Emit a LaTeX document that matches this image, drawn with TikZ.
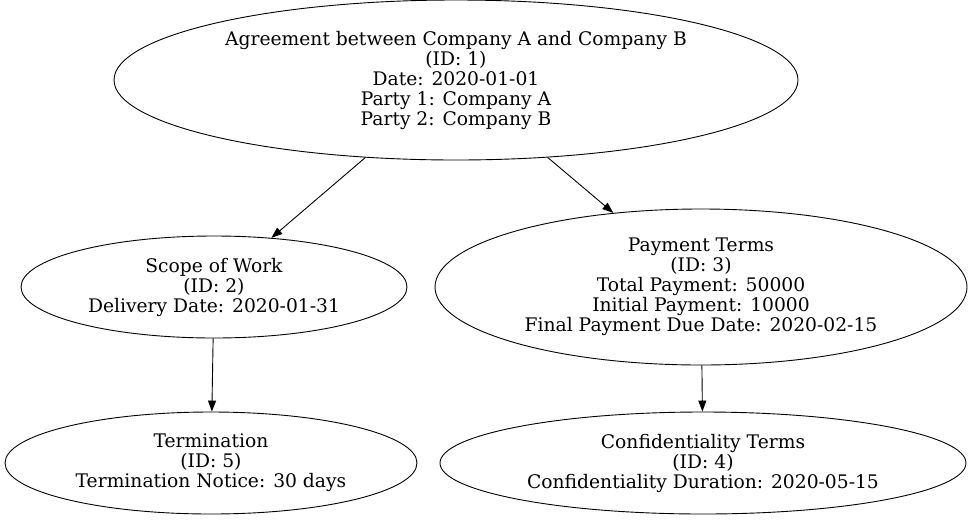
\documentclass[tikz,border=0pt]{standalone}
\usepackage{fontspec}
\setmainfont{DejaVu Serif}
\usetikzlibrary{shapes.geometric}
\usetikzlibrary{arrows.meta}

\begin{document}
\begin{tikzpicture}[
  x=1pt, y=-1pt,
  font=\fontsize{18.7}{20}\selectfont,
  % --- styles ---
  clause/.style={draw, ellipse, align=center, inner sep=0pt, line width=0.9pt},
  arrow/.style={-{Triangle[length=11pt, width=8pt]}, line width=0.9pt}
]
\useasboundingbox (0,0) rectangle (971,520);

% ======================================================
% Clauses
% ======================================================
\node[clause, minimum width=684pt, minimum height=160pt] (agree) at (456,80)
  {Agreement between Company A and Company B\\(ID: 1)\\Date: 2020-01-01\\Party 1: Company A\\Party 2: Company B};
\node[clause, minimum width=386pt, minimum height=102pt] (scope) at (214,287)
  {Scope of Work\\(ID: 2)\\Delivery Date: 2020-01-31};
\node[clause, minimum width=532pt, minimum height=156pt] (pay) at (701,287)
  {Payment Terms\\(ID: 3)\\Total Payment: 50000\\Initial Payment: 10000\\Final Payment Due Date: 2020-02-15};
\node[clause, minimum width=412pt, minimum height=102pt] (term) at (211,463)
  {Termination\\(ID: 5)\\Termination Notice: 30 days};
\node[clause, minimum width=526pt, minimum height=102pt] (conf) at (703,463)
  {Confidentiality Terms\\(ID: 4)\\Confidentiality Duration: 2020-05-15};

% ======================================================
% Edges
% ======================================================
\draw[arrow] (agree) -- (scope);
\draw[arrow] (agree) -- (pay);
\draw[arrow] (scope) -- (term);
\draw[arrow] (pay) -- (conf);

\end{tikzpicture}
\end{document}
